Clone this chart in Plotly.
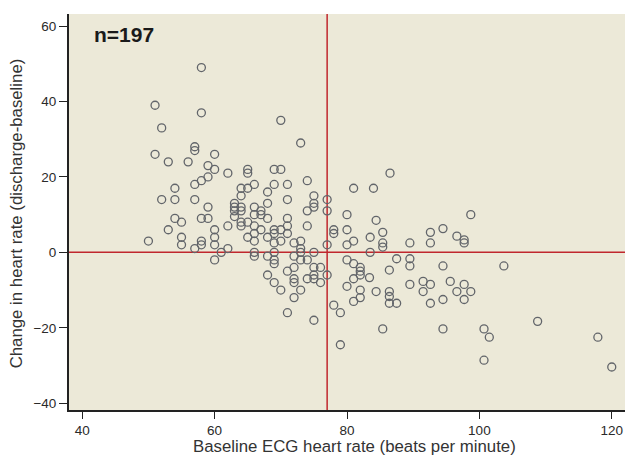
import plotly.graph_objects as go

# Baseline ECG heart rate (x) and change in heart rate (y)
baseline_hr = [
    50, 51, 51, 52, 52, 53, 53, 54, 54, 54, 55, 55, 55, 56,
    57, 57, 57, 57, 57, 58, 58, 58, 58, 58, 58, 59, 59, 59, 59,
    60, 60, 60, 60, 60, 60, 61, 62, 62, 62, 63, 63, 63, 63,
    64, 64, 64, 64, 64, 64, 65, 65, 65, 65, 65,
    66, 66, 66, 66, 66, 66, 66, 66,
    70, 73, 69, 70, 69, 71, 74, 68, 68, 71, 75, 75, 75, 74, 77, 77, 80, 81, 67, 67, 71, 68,
    67, 68, 69, 69, 70, 71, 71, 69, 70, 69, 69, 69, 68, 68, 69, 70, 71, 72, 73, 73,
    73, 72, 73, 74, 74, 75, 71, 72, 72, 72, 73, 72, 74, 75, 76, 75, 75, 76, 77, 77,
    78, 78, 80, 81, 80, 83.5, 83.5, 80, 81, 82, 82, 82, 81, 80, 82, 82, 81, 78, 79, 75, 79,
    86.5, 84, 98.7, 84.4,
    85.4, 85.4, 85.4, 83.4, 84.4, 86.4, 87.5, 86.4, 86.4, 86.4, 87.5, 85.4, 89.5, 89.5,
    89.5, 89.5, 91.5, 91.5, 92.6, 92.6, 92.6, 92.6, 94.5, 94.5, 94.5, 94.5, 95.6, 96.6,
    96.6, 97.7, 97.7, 97.7, 97.7, 98.7, 100.7, 101.5, 100.7,
    103.7, 108.8, 117.9, 120,
]
hr_change = [
    3, 39, 26, 33, 14, 24, 6, 17, 14, 9, 8, 4, 2, 24,
    28, 27, 18, 14, 1, 49, 37, 19, 9, 3, 2, 23, 20, 12, 9,
    26, 22, 6, 4, 2, -2, 0, 21, 7, 1, 13, 12, 11, 9.5,
    17, 15, 12, 11, 8, 7, 22, 21, 17, 8, 4,
    18, 12, 10, 7, 5, 3, 0, -1,
    35, 29, 22, 22, 18, 18, 19, 16, 13, 14, 15, 13, 12, 11, 14, 11, 10, 17, 11, 10, 9, 9,
    6, 4, 6, 5, 6, 7, 5, 2.5, 3, 0, -2, -3, -1, -6, -8, -10, -16, 2.5, 3, 1,
    0, -1, -2, -2, 7, 0, -5, -4, -7, -8, -10, -12, -7, -4, -4, -6, -7, -8, -6, 2,
    6, 5, 6, 3, 2, 4, 0, -2, -3, -4, -5, -6, -7, -9, -10, -12, -13, -14, -16, -18, -24.5,
    21, 17, 10, 8.5,
    5.3, 2.5, 1.4, -6.7, -10.4, -4.7, -1.7, -10.4, -11.7, -13.5, -13.5, -20.3, 2.5, -1.7,
    -3.6, -8.5, -7.7, -10.4, -8.5, -13.5, 5.3, 2.5, 6.3, -3.6, -12.5, -20.3, -7.7, 4.3,
    -10.4, 3.3, 2.5, -8.5, -12.5, -10.4, -20.3, -22.5, -28.6,
    -3.6, -18.3, -22.5, -30.4,
]

x_ticks = [40, 60, 80, 100, 120]
y_ticks = [-40, -20, 0, 20, 40, 60]
ref_x = 77   # vertical reference line
ref_y = 0    # horizontal reference line
n_label = "n=197"

fig = go.Figure()
fig.add_trace(go.Scatter(
    x=baseline_hr, y=hr_change, mode="markers",
    marker=dict(symbol="circle-open", size=8, color="#62656a",
                line=dict(width=1.3, color="#62656a")),
    showlegend=False, hoverinfo="x+y",
))

red = "#c0272d"
fig.add_shape(type="line", xref="x", yref="paper", x0=ref_x, x1=ref_x, y0=0, y1=1,
              line=dict(color=red, width=1.5), layer="below")
fig.add_shape(type="line", xref="paper", yref="y", x0=0, x1=1, y0=ref_y, y1=ref_y,
              line=dict(color=red, width=1.5), layer="below")

tick_font = dict(family="Liberation Sans, Arial, sans-serif", size=13.5, color="#2a2a2a")
title_font = dict(family="Liberation Sans, Arial, sans-serif", size=16.8, color="#333333")

fig.add_annotation(text="<b>" + n_label + "</b>", xref="paper", yref="paper",
                   x=0.041, y=0.983, xanchor="left", yanchor="top", showarrow=False,
                   font=dict(family="Liberation Sans, Arial, sans-serif",
                             size=21, color="#1a1a1a"))
fig.add_annotation(text="Baseline ECG heart rate (beats per minute)", xref="paper", yref="paper",
                   x=0.514, y=-0.093, xanchor="center", yanchor="middle", showarrow=False,
                   font=title_font)
fig.add_annotation(text="Change in heart rate (discharge-baseline)", xref="paper", yref="paper",
                   x=-0.095, y=0.497, xanchor="center", yanchor="middle", showarrow=False,
                   textangle=-90, font=title_font)

fig.update_xaxes(range=[38, 122], tickvals=x_ticks, ticks="outside", ticklen=7,
                 tickwidth=1.2, tickcolor="#222", showline=True, linewidth=2,
                 linecolor="#222", showgrid=False, zeroline=False, tickfont=tick_font,
                 mirror=False)
fig.update_yaxes(range=[-41.8, 63.2], tickvals=y_ticks, ticks="outside", ticklen=8,
                 tickwidth=1.2, tickcolor="#222", showline=True, linewidth=2,
                 linecolor="#222", showgrid=False, zeroline=False, tickfont=tick_font,
                 mirror=False)

fig.update_layout(
    width=627, height=461,
    margin=dict(l=69, r=2, t=14, b=51, autoexpand=False),
    plot_bgcolor="#ece9d8", paper_bgcolor="#ffffff",
)

fig.write_html("out.html")
